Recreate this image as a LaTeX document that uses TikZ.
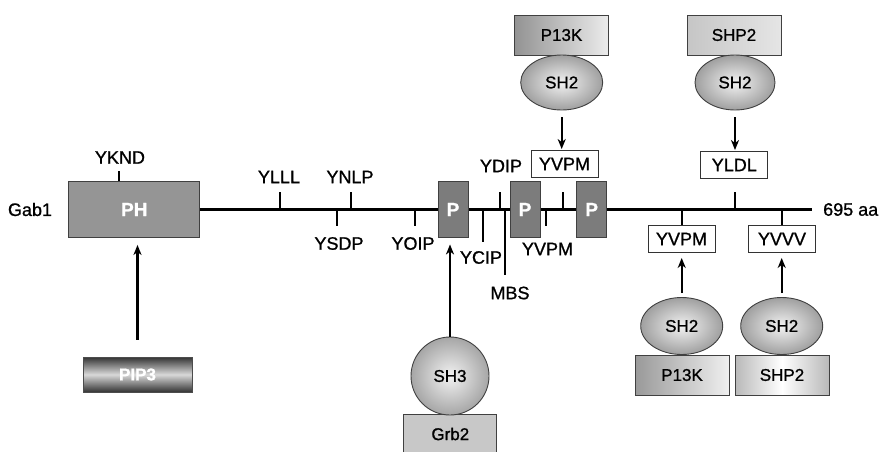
\documentclass[tikz,border=0pt]{standalone}
\usepackage{fontspec}
\setmainfont{Liberation Sans}[FakeBold=1]
\usetikzlibrary{arrows.meta,shapes.geometric}
\definecolor{phgray}{HTML}{959595}
\definecolor{pgray}{HTML}{7C7C7C}
\definecolor{grbgray}{HTML}{C8C8C8}
\begin{document}
\begin{tikzpicture}[x=1pt,y=-1pt,
  lbl/.style={inner sep=0pt, font=\fontsize{18}{20}\selectfont},
  dom/.style={draw=black!75, line width=0.9pt, minimum height=56pt, inner sep=0pt, text=white, font=\bfseries\fontsize{19}{20}\selectfont},
  pbox/.style={dom, fill=pgray, minimum width=30pt},
  site/.style={draw=black!80, line width=0.9pt, fill=white, minimum width=67pt, minimum height=27pt, inner sep=0pt, font=\fontsize{18}{20}\selectfont},
  prot/.style={draw=black!75, line width=0.9pt, minimum width=94pt, minimum height=40pt, inner sep=0pt, font=\fontsize{17}{20}\selectfont},
  shdom/.style={ellipse, draw=black!75, line width=0.9pt, inner color=gray!10, outer color=gray!75, minimum width=82pt, minimum height=55pt, inner sep=0pt, font=\fontsize{17}{20}\selectfont},
  mainline/.style={line width=2.6pt},
  tickline/.style={line width=2pt},
  arr/.style={line width=2.3pt, -{Stealth[length=10pt,width=8pt,inset=3pt]}}
]
\useasboundingbox (0,0) rectangle (880,451);

% main chain
\node[lbl] (gab) at (30,209.5) {Gab1};
\node[dom, fill=phgray, minimum width=131pt] (PH) at (134.3,209.5) {PH};
\coordinate (lineend) at (811.7,209.5);
\draw[mainline] (PH.east) -- (lineend);

% ticks
\draw[tickline] ([xshift=-15.3pt]PH.north) -- ++(0,-10);
\draw[tickline] (280,209.5) -- (280,192);
\draw[tickline] (350.7,209.5) -- (350.7,192);
\draw[tickline] (336.7,209.5) -- (336.7,226);
\draw[tickline] (415,209.5) -- (415,226);
\draw[tickline] (483,209.5) -- (483,242);
\draw[tickline] (500,209.5) -- (500,192);
\draw[tickline] (505,209.5) -- (505,275);
\draw[tickline] (546,209.5) -- (546,226);
\draw[tickline] (563,209.5) -- (563,192);
\draw[tickline] (735,209.5) -- (735,192);

% P boxes
\node[pbox] (P1) at (453,209.5) {P};
\node[pbox] (P2) at (525,209.5) {P};
\node[pbox] (P3) at (591.7,209.5) {P};

% labels
\node[lbl] (yknd) at (120,157.5) {YKND};
\node[lbl] (ylll) at (279,177) {YLLL};
\node[lbl] (ynlp) at (350,177) {YNLP};
\node[lbl] (ysdp) at (339,243.5) {YSDP};
\node[lbl] (yoip) at (413,243.5) {YOIP};
\node[lbl] (ycip) at (481,257.5) {YCIP};
\node[lbl] (mbs) at (510,293) {MBS};
\node[lbl] (yvpmL) at (547.5,249) {YVPM};
\node[lbl] (ydip) at (501,166) {YDIP};
\node[lbl, anchor=west] (aa) at (823,209.5) {695 aa};

% PIP3
\node[draw=black!70, line width=0.9pt, top color=black!80, bottom color=black!80, middle color=gray!30, minimum width=109pt, minimum height=35pt, text=white, font=\bfseries\fontsize{17}{20}\selectfont, inner sep=0pt] (PIP3) at (137.5,374.5) {PIP3};
\draw[arr, shorten <=17pt, shorten >=7pt] (PIP3.north) -- (PIP3.north |- PH.south);

% Grb2 / SH3
\node[prot, fill=grbgray, minimum width=93pt] (grb2) at (450.3,434) {Grb2};
\node[circle, draw=black!75, line width=0.9pt, inner color=gray!10, outer color=gray!70, minimum size=78pt, inner sep=0pt, font=\fontsize{17}{20}\selectfont] (SH3) at (450,376) {SH3};
\draw[arr, shorten >=6.5pt] (SH3.north) -- (SH3.north |- P1.south);

% top P13K
\node[prot, left color=gray!85, right color=gray!15] (p13kT) at (561.5,35) {P13K};
\node[shdom] (sh2a) at (561.7,82.5) {SH2};
\node[site] (yvpmT) at (564.5,164) {YVPM};
\draw[arr, shorten <=7pt, shorten >=1pt] (sh2a.south) -- (sh2a.south |- yvpmT.north);

% top SHP2
\node[prot, left color=gray!45, right color=gray!20] (shp2T) at (734,35) {SHP2};
\node[shdom, minimum width=80pt] (sh2b) at (735,82.5) {SH2};
\node[site] (yldl) at (734.3,165) {YLDL};
\draw[arr, shorten <=7pt, shorten >=1pt] (sh2b.south) -- (sh2b.south |- yldl.north);

% bottom right
\node[site] (yvpmB) at (681.5,239) {YVPM};
\node[site] (yvvv) at (782,239) {YVVV};
\draw[tickline] (yvpmB.north) -- (yvpmB.north |- lineend);
\draw[tickline] (yvvv.north) -- (yvvv.north |- lineend);
\node[prot, left color=gray!80, right color=gray!12] (p13kB) at (682,375) {P13K};
\node[prot, left color=gray!55, right color=gray!55, middle color=white] (shp2B) at (782,375) {SHP2};
\node[shdom, minimum height=57pt] (sh2c) at (681.7,326) {SH2};
\node[shdom, minimum height=57pt] (sh2d) at (781.7,326) {SH2};
\draw[arr, shorten <=4pt, shorten >=5pt] (sh2c.north) -- (sh2c.north |- yvpmB.south);
\draw[arr, shorten <=4pt, shorten >=5pt] (sh2d.north) -- (sh2d.north |- yvvv.south);
\end{tikzpicture}
\end{document}
